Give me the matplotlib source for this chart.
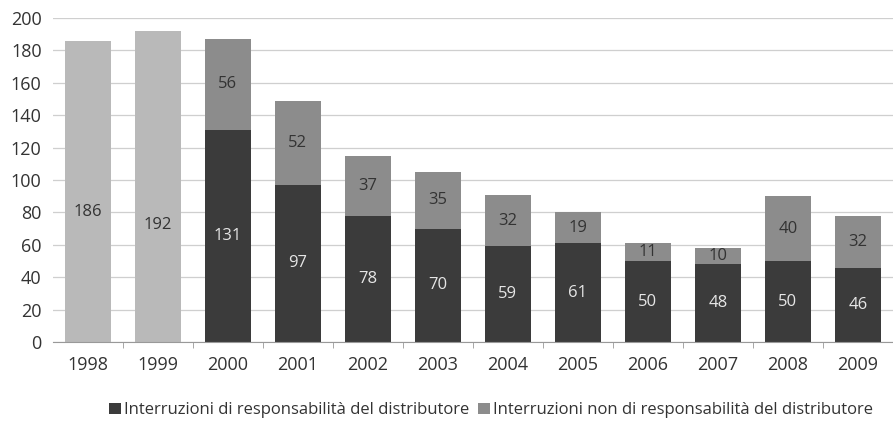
import numpy as np
import matplotlib.pyplot as plt

plt.rcParams['font.family'] = ['Open Sans', 'DejaVu Sans']

anni = ["1998", "1999", "2000", "2001", "2002", "2003", "2004", "2005", "2006", "2007", "2008", "2009"]
totale = [186, 192, None, None, None, None, None, None, None, None, None, None]
resp = [0, 0, 131, 97, 78, 70, 59, 61, 50, 48, 50, 46]
non_resp = [0, 0, 56, 52, 37, 35, 32, 19, 11, 10, 40, 32]

c_tot = "#b9b9b9"
c_resp = "#3b3b3b"
c_non = "#8c8c8c"

# the two totals have their label a bit below the middle
pos_tot = [0.43, 0.375]

fig = plt.figure(figsize=(8.93, 4.26), dpi=100)
ax = fig.add_axes([0.059, 0.197, 0.941, 0.761])

x = np.arange(len(anni))
w = 0.66

for i, t in enumerate(totale):
    if t is not None:
        ax.bar(x[i], t, w, color=c_tot, zorder=2)
        ax.text(x[i], t * pos_tot[i], str(t), ha="center", va="center", fontsize=12, color="#333333", zorder=3)

b1 = ax.bar(x, resp, w, color=c_resp, zorder=2, label="Interruzioni di responsabilità del distributore")
b2 = ax.bar(x, non_resp, w, bottom=resp, color=c_non, zorder=2, label="Interruzioni non di responsabilità del distributore")

for i in range(len(anni)):
    if resp[i] > 0:
        ax.text(x[i], resp[i] / 2, str(resp[i]), ha="center", va="center", fontsize=12, color="#e6e6e6", zorder=3)
        ax.text(x[i], resp[i] + non_resp[i] / 2, str(non_resp[i]), ha="center", va="center", fontsize=12, color="#333333", zorder=3)

ax.set_xlim(-0.5, len(anni) - 0.5)
ax.set_ylim(0, 200)
ax.set_yticks(range(0, 201, 20))
ax.yaxis.grid(True, color="#cfcfcf", linewidth=0.9, zorder=0)
ax.set_xticks(x)
ax.set_xticklabels(anni)
ax.set_xticks(np.arange(0.5, len(anni) - 0.5, 1), minor=True)
ax.tick_params(axis="x", which="major", length=0, pad=10, labelsize=13, labelcolor="#333333")
ax.tick_params(axis="x", which="minor", length=4, color="#999999")
ax.tick_params(axis="y", length=0, pad=8, labelsize=13, labelcolor="#333333")

for s in ["top", "right", "left"]:
    ax.spines[s].set_visible(False)
ax.spines["bottom"].set_color("#999999")

handles = [b1, b2]
fig.legend(handles, [h.get_label() for h in handles], loc="center", bbox_to_anchor=(0.55, 0.037),
           ncol=2, frameon=False, fontsize=12, handlelength=0.7, handleheight=0.7,
           handletextpad=0.2, columnspacing=0.5, labelcolor="#333333")

fig.savefig("out.png", dpi=100)
